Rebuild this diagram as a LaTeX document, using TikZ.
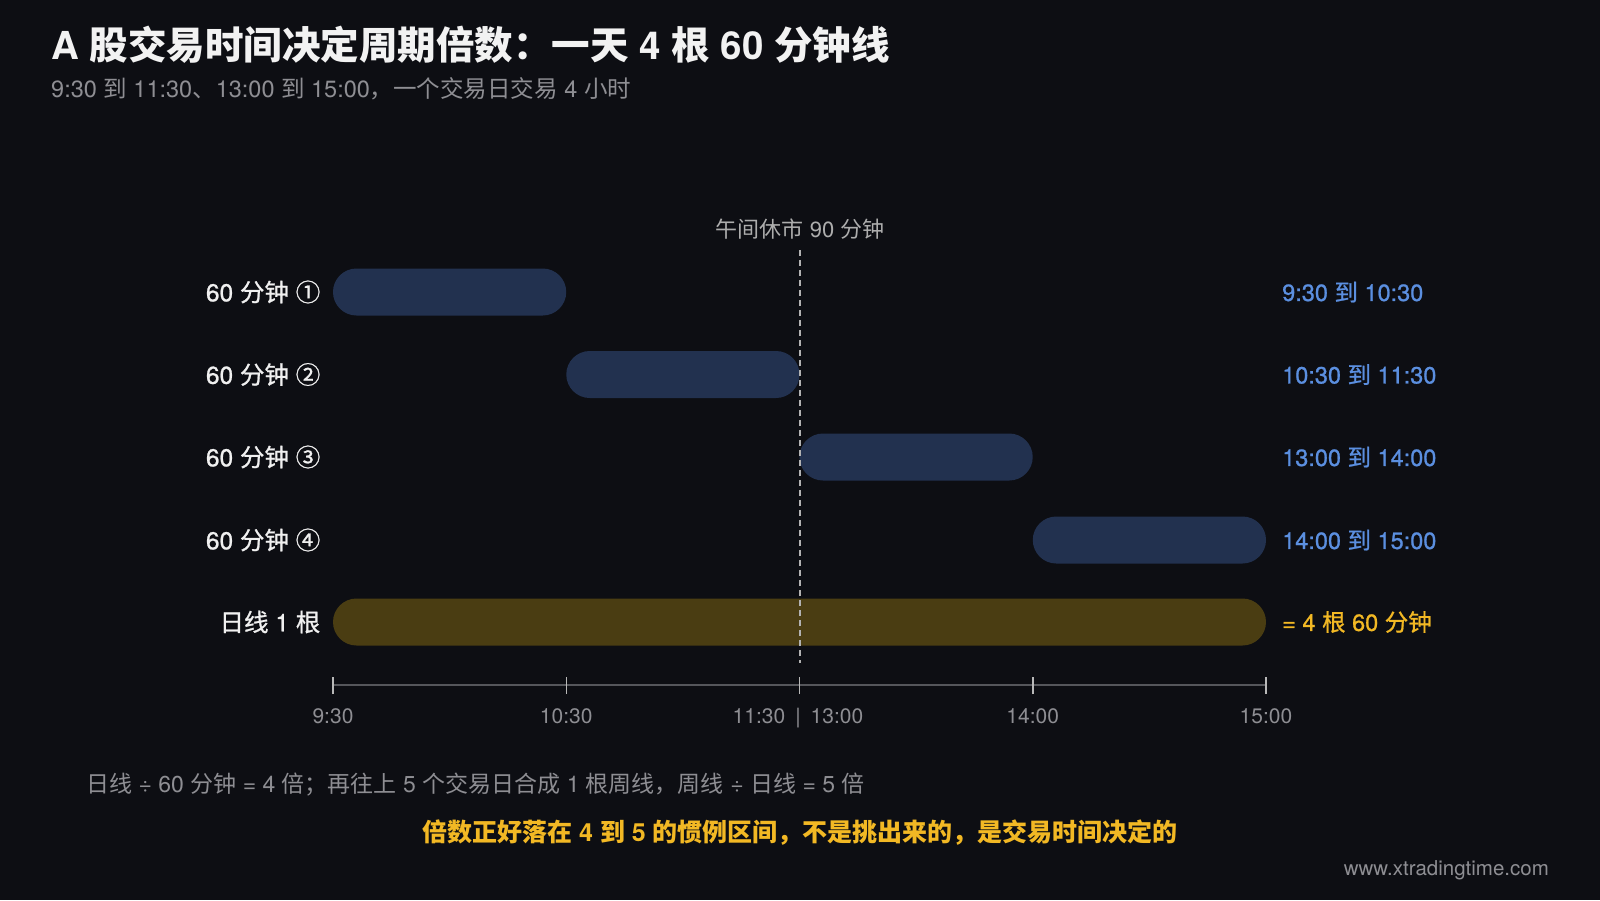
\documentclass[tikz,border=0pt]{standalone}
\usepackage{fontspec}
\setmainfont{Noto Sans CJK SC}
\newfontfamily\latfont{TeX Gyre Heros}
\newfontfamily\latmid[FakeBold=0.9]{TeX Gyre Heros}
\newfontfamily\cjkmid[FakeBold=0.9]{Noto Sans CJK SC}
\newcommand{\curlat}{\latfont}
\newcommand{\lat}[1]{{\curlat#1}}
\usepackage{tikz}
\usetikzlibrary{positioning}
\definecolor{bgdark}{HTML}{0D0E13}
\definecolor{barblue}{HTML}{22314F}
\definecolor{baryellow}{HTML}{4A3D12}
\definecolor{txtblue}{HTML}{5B8FE0}
\definecolor{txtyellow}{HTML}{F2B824}
\definecolor{txtgray}{HTML}{8E8E93}
\definecolor{axisgray}{HTML}{55565B}

\begin{document}
\begin{tikzpicture}[x=1pt,y=-1pt,
  hour bar/.style={rectangle,rounded corners=23.5pt,fill=barblue,minimum width=233.25pt,minimum height=47pt,inner sep=0pt},
  day bar/.style={hour bar,fill=baryellow,minimum width=933pt},
  row label/.style={anchor=east,inner sep=0pt,text=white!94!black,font=\cjkmid\renewcommand{\curlat}{\latmid}\fontsize{24.5}{28}\selectfont},
  range label/.style={anchor=west,inner sep=0pt,text=txtblue,font=\cjkmid\renewcommand{\curlat}{\latmid}\fontsize{23.5}{28}\selectfont},
  tick label/.style={inner sep=0pt,text height=15pt,text depth=0pt,text=txtgray,font=\latfont\fontsize{21}{25}\selectfont}]
% background and frame
\fill[bgdark] (0,0) rectangle (1600,900);
\useasboundingbox (0,0) rectangle (1600,900);

% Title
  \node (title) at (51,45) [anchor=west,inner sep=0pt,text=white!95!black,font=\fontsize{38.5}{44}\selectfont\bfseries] {\lat{A }股交易时间决定周期倍数：一天\lat{ 4 }根\lat{ 60 }分钟线};
  \node (subtitle) at (51,89) [anchor=west,inner sep=0pt,text=txtgray,font=\fontsize{23.5}{27}\selectfont] {\lat{9:30 }到\lat{ 11:30}、\lat{13:00 }到\lat{ 15:00}，一个交易日交易\lat{ 4 }小时};

% Hour bars
  \node[hour bar] (bar1) at (449.6,292) {};
  \node[hour bar] (bar2) at (682.9,374.5) {};
  \node[hour bar] (bar3) at (916.1,457) {};
  \node[hour bar] (bar4) at (1149.4,540) {};
  \node[day bar] (daybar) at (799.5,622) {};

% Row labels
  \node[row label] (lbl1) at (320.5,292) {\lat{60 }分钟\lat{ }①};
  \node[row label] (lbl2) at (320.5,374.5) {\lat{60 }分钟\lat{ }②};
  \node[row label] (lbl3) at (320.5,457) {\lat{60 }分钟\lat{ }③};
  \node[row label] (lbl4) at (320.5,540) {\lat{60 }分钟\lat{ }④};
  \node[row label] (lblday) at (320.5,622) {日线\lat{ 1 }根};

  \node[range label] (rng1) at (1282,292) {\lat{9:30 }到\lat{ 10:30}};
  \node[range label] (rng2) at (1282,374.5) {\lat{10:30 }到\lat{ 11:30}};
  \node[range label] (rng3) at (1282,457) {\lat{13:00 }到\lat{ 14:00}};
  \node[range label] (rng4) at (1282,540) {\lat{14:00 }到\lat{ 15:00}};
  \node[range label,text=txtyellow] (rngday) at (1282,622) {\lat{= 4 }根\lat{ 60 }分钟};

% Lunch break
  \node (lunch) at (800,229) [inner sep=0pt,text=white!68!black,font=\fontsize{22}{26}\selectfont] {午间休市\lat{ 90 }分钟};
  \coordinate (dashtop) at (800,250);
  \coordinate (dashbot) at (800,663);
  \draw[white!70!black,line width=1.5pt,dash pattern=on 6pt off 4pt] (dashtop) -- (dashbot);

% Time axis
  \coordinate (t0) at (333,685);
  \coordinate (t1) at (566.25,685);
  \coordinate (t2) at (799.5,685);
  \coordinate (t3) at (1032.75,685);
  \coordinate (t4) at (1266,685);
  \draw[axisgray,line width=2pt] (t0) -- (t4);
  \draw[white!72!black,line width=1.5pt]
    ([yshift=-9pt]t0) -- ([yshift=8pt]t0)
    ([yshift=-9pt]t1) -- ([yshift=8pt]t1)
    ([yshift=-9pt]t2) -- ([yshift=8pt]t2)
    ([yshift=-9pt]t3) -- ([yshift=8pt]t3)
    ([yshift=-9pt]t4) -- ([yshift=8pt]t4);

  \node[tick label] (tl0) at (333,716) {9:30};
  \node[tick label] (tl1) at (566.25,716) {10:30};
  \node[tick label] (tl2) at (798,716) {11:30\hspace{10pt}|\hspace{10pt}13:00};
  \node[tick label] (tl3) at (1032.75,716) {14:00};
  \node[tick label] (tl4) at (1266,716) {15:00};

% Notes
  \node (note1) at (86,785) [anchor=west,inner sep=0pt,text=txtgray,font=\fontsize{23}{27}\selectfont] {日线\lat{ ÷ 60 }分钟\lat{ = 4 }倍；再往上\lat{ 5 }个交易日合成\lat{ 1 }根周线，周线\lat{ ÷ }日线\lat{ = 5 }倍};
  \node (note2) at (800,833) [inner sep=0pt,text=txtyellow,font=\fontsize{25}{29}\selectfont\bfseries] {倍数正好落在\lat{ 4 }到\lat{ 5 }的惯例区间，不是挑出来的，是交易时间决定的};
  \node (site) at (1549,870) [anchor=east,inner sep=0pt,text=txtgray,font=\latfont\fontsize{20.5}{24}\selectfont] {www.xtradingtime.com};

\end{tikzpicture}
\end{document}
